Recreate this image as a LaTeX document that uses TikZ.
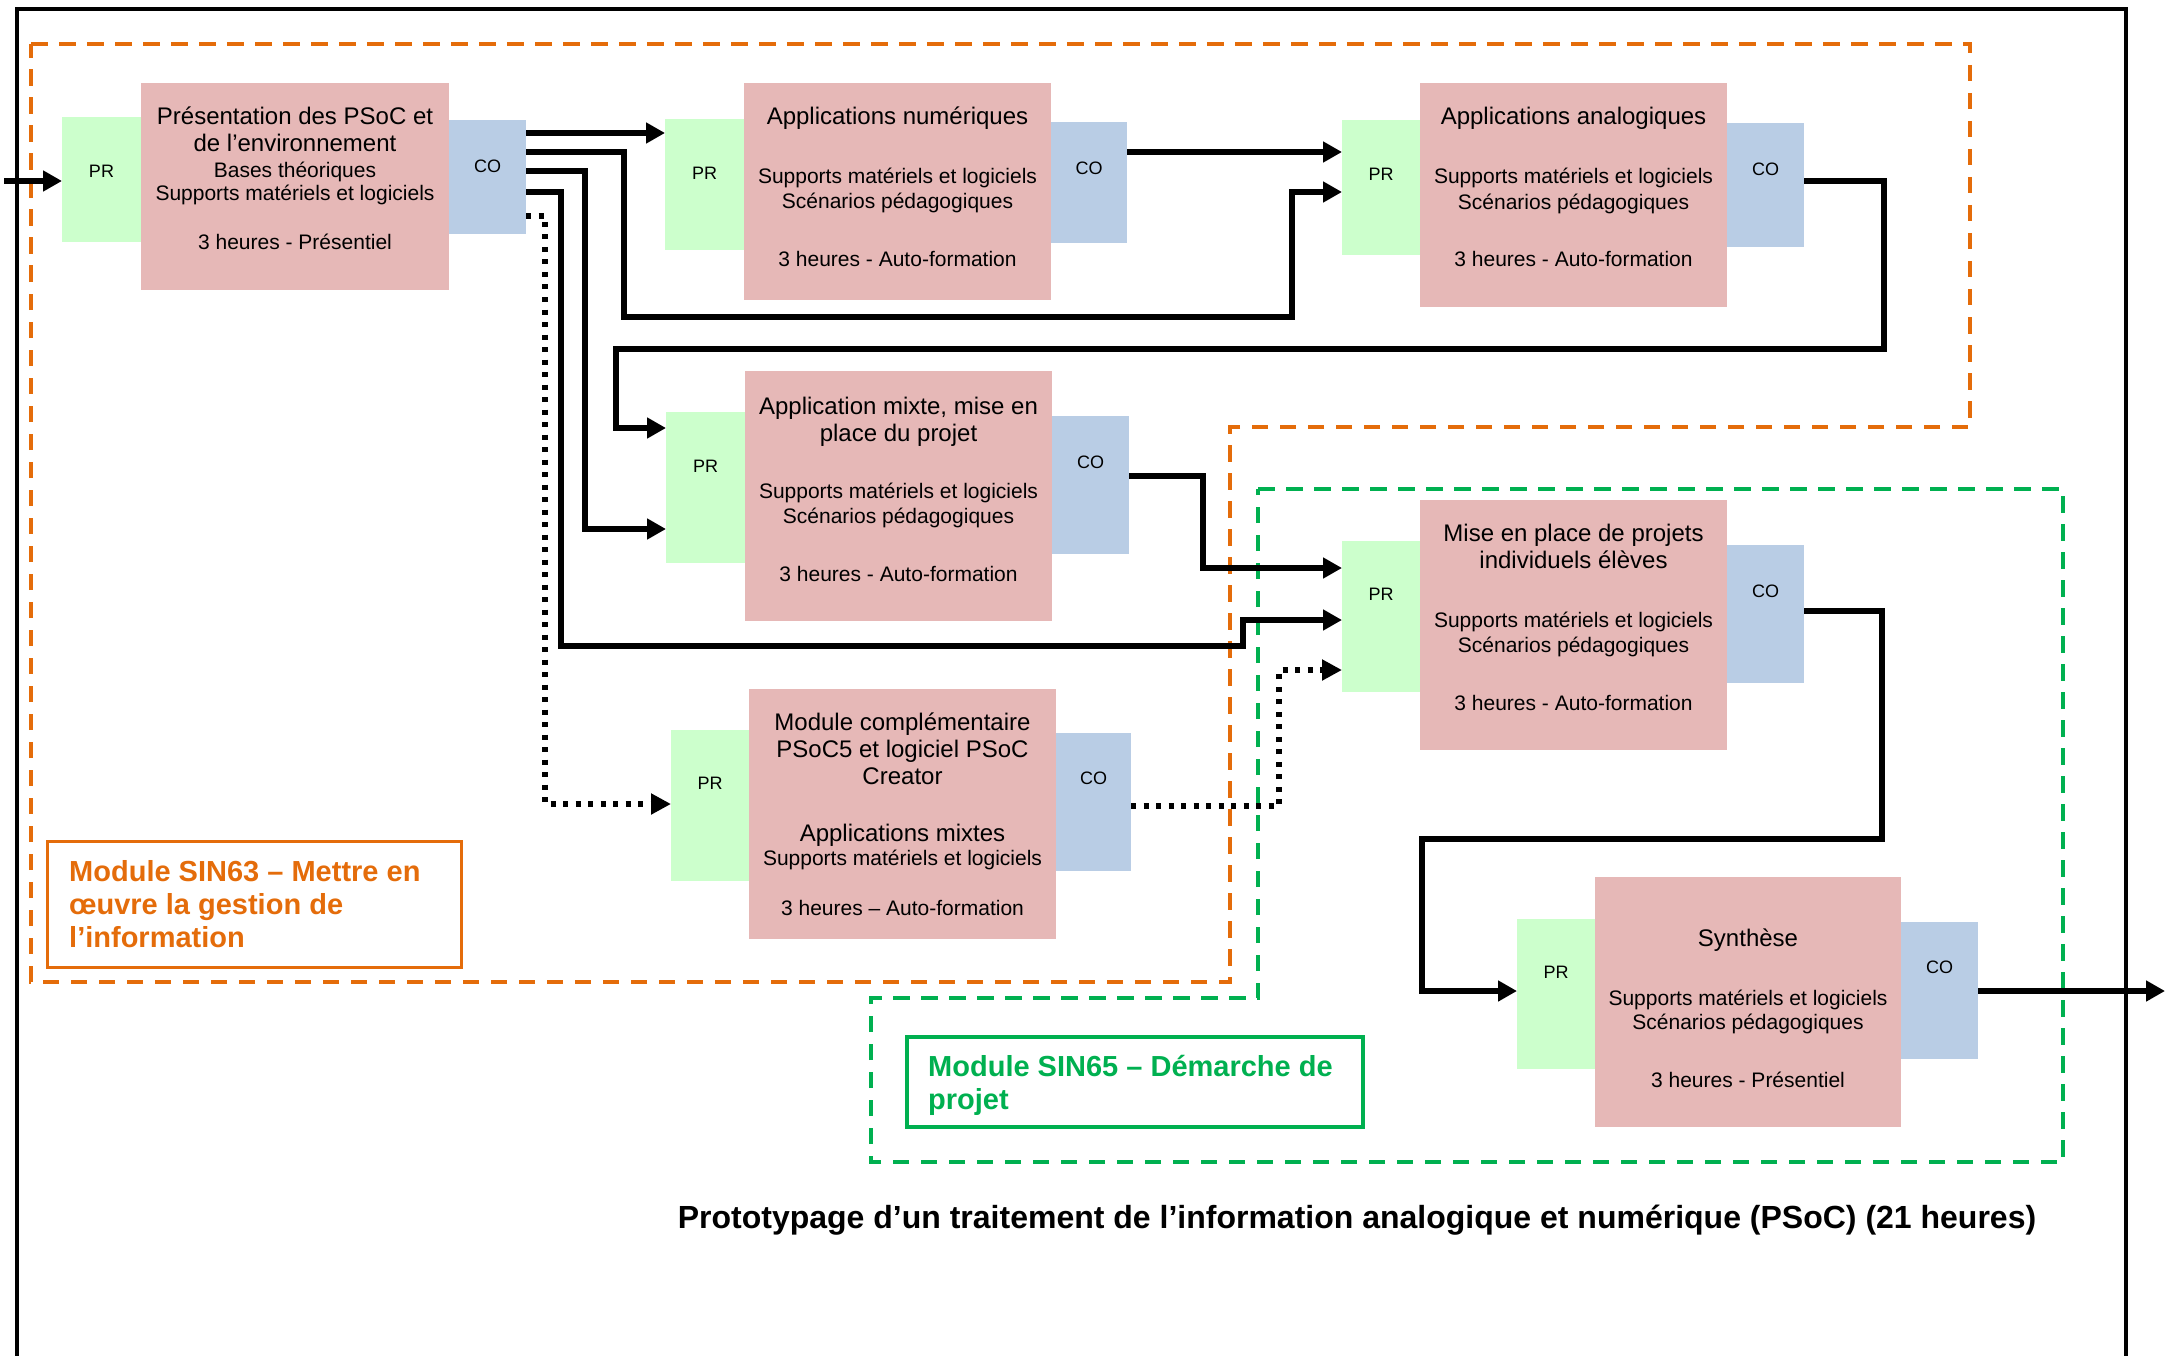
\documentclass[tikz,border=0pt]{standalone}
\usepackage{fontspec}
\setmainfont{Liberation Sans}
\usetikzlibrary{arrows.meta}
\definecolor{pinkc}{HTML}{E6B8B7}
\definecolor{prc}{HTML}{CCFFCC}
\definecolor{coc}{HTML}{B9CDE5}
\definecolor{orc}{HTML}{E46C0A}
\definecolor{grc}{HTML}{00B050}
\begin{document}
\begin{tikzpicture}[x=1pt,y=-1pt,
 box/.style={draw=none, inner sep=0pt, outer sep=0pt},
 prb/.style={box, fill=prc},
 pkb/.style={box, fill=pinkc},
 cob/.style={box, fill=coc},
 lab/.style={inner sep=0pt, anchor=base, font=\fontsize{18}{20}\selectfont},
 ttl/.style={inner sep=0pt, anchor=base, font=\fontsize{24}{28}\selectfont},
 sml/.style={inner sep=0pt, anchor=base, font=\fontsize{21}{24}\selectfont},
 modo/.style={inner sep=0pt, anchor=base west, text=orc, font=\fontsize{29}{33}\selectfont\bfseries},
 modg/.style={inner sep=0pt, anchor=base west, text=grc, font=\fontsize{29}{33}\selectfont\bfseries},
 conn/.style={line width=6pt, -{Triangle[length=19pt,width=20pt]}},
 dconn/.style={line width=5.5pt, dash pattern=on 5pt off 7.5pt, -{Triangle[length=20pt,width=20pt]}},
 dbox/.style={line width=3.5pt, dash pattern=on 16.5pt off 11.5pt},
]
\useasboundingbox (0,0) rectangle (2165,1356);

% outer frame
\draw[line width=4pt] (16.5,1356) -- (16.5,9.5) -- (2126,9.5) -- (2126,1356);

% module areas
\draw[dbox, orc] (31,44) -- (1970,44) -- (1970,427) -- (1230,427) -- (1230,982) -- (31,982) -- cycle;
\draw[dbox, grc] (1258,489) -- (2063,489) -- (2063,1162) -- (871,1162) -- (871,998) -- (1258,998) -- cycle;

% module labels
\node[draw=orc, line width=3pt, minimum width=414pt, minimum height=126pt, inner sep=0pt] (m63) at (254,904) {};
\node[modo] (m63a) at (69,881) {Module SIN63 – Mettre en};
\node[modo] (m63b) at (69,914) {œuvre la gestion de};
\node[modo] (m63c) at (69,947) {l’information};

\node[draw=grc, line width=3.5pt, minimum width=456pt, minimum height=90pt, inner sep=0pt] (m65) at (1135,1082) {};
\node[modg] (m65a) at (928,1076) {Module SIN65 – Démarche de};
\node[modg] (m65b) at (928,1109) {projet};

% title
\node[inner sep=0pt, anchor=base, font=\fontsize{32}{36}\selectfont\bfseries] (title) at (1357,1228) {Prototypage d’un traitement de l’information analogique et numérique (PSoC) (21 heures)};

% ---- block 1
\node[prb, minimum width=79pt, minimum height=125pt] (pr1) at (101.5,179.5) {};
\node[pkb, minimum width=308pt, minimum height=207pt] (pk1) at (295,186.5) {};
\node[cob, minimum width=77pt, minimum height=114pt] (co1) at (487.5,177) {};
\node[lab] (pr1t) at (101.5,177.5) {PR};
\node[lab] (co1t) at (487.5,172.5) {CO};
\node[ttl] (b1a) at (295,125) {Présentation des PSoC et};
\node[ttl] (b1b) at (295,152) {de l’environnement};
\node[sml] (b1c) at (295,177.5) {Bases théoriques};
\node[sml] (b1d) at (295,200.5) {Supports matériels et logiciels};
\node[sml] (b1e) at (295,249.5) {3 heures - Présentiel};

% ---- block 2
\node[prb, minimum width=79pt, minimum height=131pt] (pr2) at (704.5,184.5) {};
\node[pkb, minimum width=307pt, minimum height=217pt] (pk2) at (897.5,191.5) {};
\node[cob, minimum width=76pt, minimum height=121pt] (co2) at (1089,182.5) {};
\node[lab] (pr2t) at (704.5,179.5) {PR};
\node[lab] (co2t) at (1089,174.5) {CO};
\node[ttl] (b2a) at (897.5,125) {Applications numériques};
\node[sml] (b2b) at (897.5,183.5) {Supports matériels et logiciels};
\node[sml] (b2c) at (897.5,208.5) {Scénarios pédagogiques};
\node[sml] (b2d) at (897.5,266.5) {3 heures - Auto-formation};

% ---- block 3
\node[prb, minimum width=78pt, minimum height=135pt] (pr3) at (1381,187.5) {};
\node[pkb, minimum width=307pt, minimum height=224pt] (pk3) at (1573.5,195) {};
\node[cob, minimum width=77pt, minimum height=124pt] (co3) at (1765.5,185) {};
\node[lab] (pr3t) at (1381,180.5) {PR};
\node[lab] (co3t) at (1765.5,175.5) {CO};
\node[ttl] (b3a) at (1573.5,125) {Applications analogiques};
\node[sml] (b3b) at (1573.5,183.5) {Supports matériels et logiciels};
\node[sml] (b3c) at (1573.5,209.5) {Scénarios pédagogiques};
\node[sml] (b3d) at (1573.5,266.5) {3 heures - Auto-formation};

% ---- block 4
\node[prb, minimum width=79pt, minimum height=151pt] (pr4) at (705.5,487.5) {};
\node[pkb, minimum width=307pt, minimum height=250pt] (pk4) at (898.5,496) {};
\node[cob, minimum width=77pt, minimum height=138pt] (co4) at (1090.5,485) {};
\node[lab] (pr4t) at (705.5,472.5) {PR};
\node[lab] (co4t) at (1090.5,468.5) {CO};
\node[ttl] (b4a) at (898.5,414) {Application mixte, mise en};
\node[ttl] (b4b) at (898.5,441) {place du projet};
\node[sml] (b4c) at (898.5,498.5) {Supports matériels et logiciels};
\node[sml] (b4d) at (898.5,523.5) {Scénarios pédagogiques};
\node[sml] (b4e) at (898.5,581.5) {3 heures - Auto-formation};

% ---- block 5
\node[prb, minimum width=78pt, minimum height=151pt] (pr5) at (1381,616.5) {};
\node[pkb, minimum width=307pt, minimum height=250pt] (pk5) at (1573.5,625) {};
\node[cob, minimum width=77pt, minimum height=138pt] (co5) at (1765.5,614) {};
\node[lab] (pr5t) at (1381,600.5) {PR};
\node[lab] (co5t) at (1765.5,597.5) {CO};
\node[ttl] (b5a) at (1573.5,541) {Mise en place de projets};
\node[ttl] (b5b) at (1573.5,568) {individuels élèves};
\node[sml] (b5c) at (1573.5,627.5) {Supports matériels et logiciels};
\node[sml] (b5d) at (1573.5,652.5) {Scénarios pédagogiques};
\node[sml] (b5e) at (1573.5,710.5) {3 heures - Auto-formation};

% ---- block 6
\node[prb, minimum width=78pt, minimum height=151pt] (pr6) at (710,805.5) {};
\node[pkb, minimum width=307pt, minimum height=250pt] (pk6) at (902.5,814) {};
\node[cob, minimum width=75pt, minimum height=138pt] (co6) at (1093.5,802) {};
\node[lab] (pr6t) at (710,789.5) {PR};
\node[lab] (co6t) at (1093.5,784.5) {CO};
\node[ttl] (b6a) at (902.5,730) {Module complémentaire};
\node[ttl] (b6b) at (902.5,757) {PSoC5 et logiciel PSoC};
\node[ttl] (b6c) at (902.5,784) {Creator};
\node[ttl] (b6d) at (902.5,841) {Applications mixtes};
\node[sml] (b6e) at (902.5,865.5) {Supports matériels et logiciels};
\node[sml] (b6f) at (902.5,915.5) {3 heures – Auto-formation};

% ---- block 7
\node[prb, minimum width=78pt, minimum height=150pt] (pr7) at (1556,994) {};
\node[pkb, minimum width=306pt, minimum height=250pt] (pk7) at (1748,1002) {};
\node[cob, minimum width=77pt, minimum height=137pt] (co7) at (1939.5,990.5) {};
\node[lab] (pr7t) at (1556,978.5) {PR};
\node[lab] (co7t) at (1939.5,973.5) {CO};
\node[ttl] (b7a) at (1748,946) {Synthèse};
\node[sml] (b7b) at (1748,1005.5) {Supports matériels et logiciels};
\node[sml] (b7c) at (1748,1029.5) {Scénarios pédagogiques};
\node[sml] (b7d) at (1748,1087.5) {3 heures - Présentiel};

% ---- connectors
\coordinate (in) at (4,181);
\coordinate (out) at (2165,991);
\draw[conn] (in) -- (pr1.west |- in);
\draw[conn] (co1.east |- 0,133) -- (pr2.west |- 0,133);
\draw[conn] (co1.east |- 0,152) -| (624,317) -| (1292,192) -- (pr3.west |- 0,192);
\draw[conn] (co1.east |- 0,171) -| (585,529) -- (pr4.west |- 0,529);
\draw[conn] (co1.east |- 0,192) -| (561,646) -| (1243,620) -- (pr5.west |- 0,620);
\draw[dconn] (co1.east |- 0,216) -| (545,804) -- (pr6.west |- 0,804);
\draw[conn] (co2.east |- 0,152) -- (pr3.west |- 0,152);
\draw[conn] (co3.east |- 0,181) -| (1884,349) -| (616,428) -- (pr4.west |- 0,428);
\draw[conn] (co4.east |- 0,476) -| (1203,568) -- (pr5.west |- 0,568);
\draw[dconn] (co6.east |- 0,806) -| (1279,670) -- (pr5.west |- 0,670);
\draw[conn] (co5.east |- 0,611) -| (1882,839) -| (1422,991) -- (pr7.west |- 0,991);
\draw[conn] (co7.east |- out) -- (out);
\end{tikzpicture}
\end{document}
